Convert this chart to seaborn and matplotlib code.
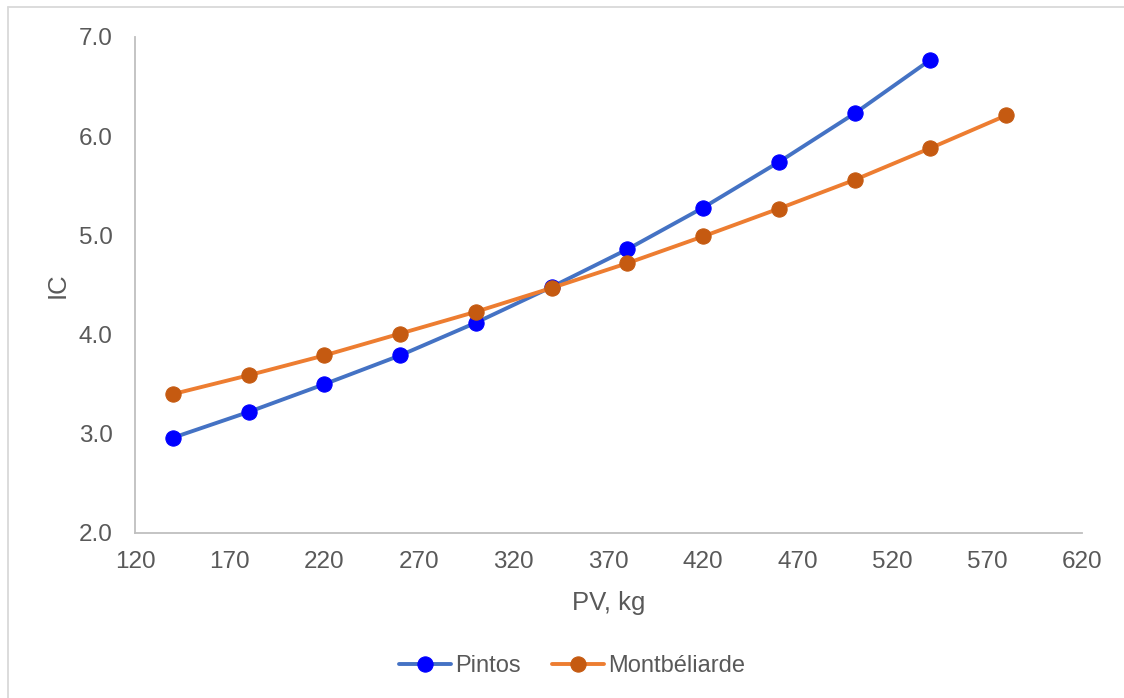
import pandas as pd
import matplotlib.pyplot as plt
import seaborn as sns
from matplotlib.lines import Line2D

pv_pintos = [140, 180, 220, 260, 300, 340, 380, 420, 460, 500, 540]
ic_pintos = [2.96, 3.22, 3.50, 3.79, 4.12, 4.48, 4.86, 5.28, 5.74, 6.23, 6.77]

pv_montb = [140, 180, 220, 260, 300, 340, 380, 420, 460, 500, 540, 580]
ic_montb = [3.40, 3.59, 3.79, 4.01, 4.23, 4.47, 4.72, 4.99, 5.27, 5.56, 5.88, 6.21]

x_ticks = [120, 170, 220, 270, 320, 370, 420, 470, 520, 570, 620]
y_ticks = [2.0, 3.0, 4.0, 5.0, 6.0, 7.0]

sns.set_style('white')
plt.rcParams['font.family'] = ['Liberation Sans', 'DejaVu Sans']

df_p = pd.DataFrame({'PV': pv_pintos, 'IC': ic_pintos})
df_m = pd.DataFrame({'PV': pv_montb, 'IC': ic_montb})

fig = plt.figure(figsize=(11.24, 6.98), dpi=100)
ax = fig.add_axes([0.1201, 0.2364, 0.8425, 0.7106])

sns.lineplot(x='PV', y='IC', data=df_p, ax=ax, color='#4472C4', linewidth=2.8,
             marker='o', markersize=11, markerfacecolor='#0000FF',
             markeredgecolor='#0000FF', label='Pintos')
sns.lineplot(x='PV', y='IC', data=df_m, ax=ax, color='#ED7D31', linewidth=2.8,
             marker='o', markersize=11, markerfacecolor='#C55A11',
             markeredgecolor='#C55A11', label='Montbéliarde')

ax.set_xlim(120, 620)
ax.set_ylim(2.0, 7.0)
ax.set_xticks(x_ticks)
ax.set_yticks(y_ticks)
ax.set_yticklabels(['{:.1f}'.format(v) for v in y_ticks])
ax.tick_params(labelsize=17.5, colors='#595959', length=0)
ax.tick_params(axis='x', pad=13)
ax.tick_params(axis='y', pad=16)

for side in ['top', 'right']:
    ax.spines[side].set_visible(False)
for side in ['left', 'bottom']:
    ax.spines[side].set_color('#BFBFBF')
    ax.spines[side].set_linewidth(1.3)

ax.set_xlabel('PV, kg', fontsize=18.5, color='#595959', labelpad=13)
ax.set_ylabel('IC', fontsize=18.5, color='#595959', labelpad=7)

handles, labels = ax.get_legend_handles_labels()
ax.legend(handles, labels, loc='center', bbox_to_anchor=(0.509, 0.046),
          bbox_transform=fig.transFigure, ncol=2, frameon=False,
          fontsize=17, labelcolor='#595959', handlelength=2.2,
          columnspacing=1.3, handletextpad=0.2)

# chart area border (only top and left edges fall inside the picture)
fig.add_artist(Line2D([0.0075, 0.0075], [0, 0.99], transform=fig.transFigure,
                      color='#D9D9D9', linewidth=1.3))
fig.add_artist(Line2D([0.0075, 1.0], [0.99, 0.99], transform=fig.transFigure,
                      color='#D9D9D9', linewidth=1.3))

fig.savefig('out.png', dpi=100)
